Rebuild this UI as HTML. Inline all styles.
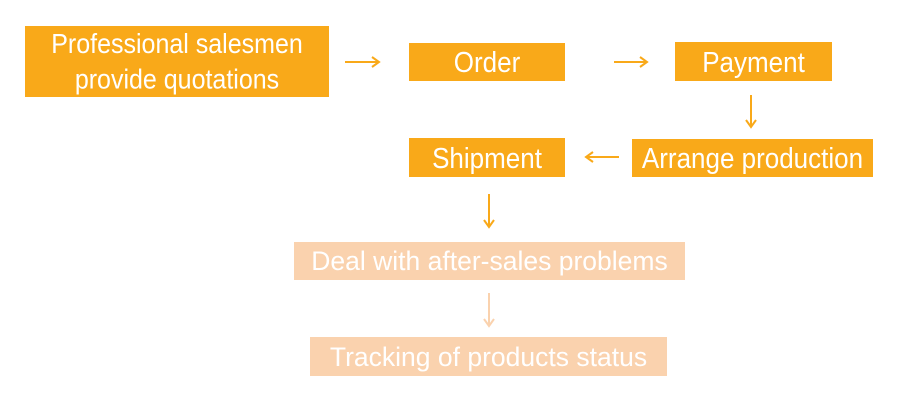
<!DOCTYPE html>
<html><head><style>
body{margin:0;width:903px;height:400px;background:#fff;position:relative;overflow:hidden;font-family:"Liberation Sans",Arial,sans-serif;}
.b{position:absolute;background:#F9A919;color:#fff;display:flex;align-items:center;justify-content:center;text-align:center;font-size:26px;line-height:32px;white-space:nowrap;}
.b span{display:inline-block;transform:scaleY(1.1);}
.l{background:#FAD2AE;font-size:26.5px;}
.l span{transform:none;}
svg{position:absolute;left:0;top:0;}
</style></head><body>
<div class="b" style="left:25px;top:26px;width:304px;height:71px;font-size:25px;"><span>Professional salesmen<br>provide quotations</span></div>
<div class="b" style="left:409px;top:43px;width:156px;height:38px;"><span>Order</span></div>
<div class="b" style="left:675px;top:42px;width:157px;height:39px;"><span>Payment</span></div>
<div class="b" style="left:632px;top:139px;width:241px;height:38px;"><span>Arrange production</span></div>
<div class="b" style="left:409px;top:138px;width:156px;height:39px;"><span>Shipment</span></div>
<div class="b l" style="left:294px;top:242px;width:391px;height:38px;"><span>Deal with after-sales problems</span></div>
<div class="b l" style="left:310px;top:337px;width:357px;height:39px;"><span>Tracking of products status</span></div>
<svg width="903" height="400">
<g stroke="#F9A919" stroke-width="2" fill="none">
<path d="M345 62H379M372 57L379 62L372 67"/>
<path d="M614 62H647M640 57L647 62L640 67"/>
<path d="M751 95V127M746 120L751 127L756 120"/>
<path d="M619 157H586M593 152L586 157L593 162"/>
<path d="M489 194V227M484 220L489 227L494 220"/>
</g>
<path d="M489 293V326M484 319L489 326L494 319" stroke="#FAD2AE" stroke-width="2" fill="none"/>
</svg>
</body></html>
